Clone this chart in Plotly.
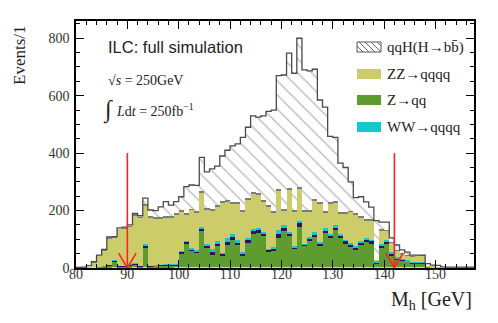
import numpy as np
import plotly.graph_objects as go

# bins of 1 GeV, lower edges 80 .. 157
bin_lo = np.arange(80, 158)

# stacked components (events per bin)
bkg_other = [2, 2] + [3] * 76
zqq = [0, 0, 0, 0, 2, 4, 6, 20, 3, 3,
       6, 8, 3, 70, 2, 4, 5, 5, 6, 7,
       46, 80, 56, 50, 126, 68, 45, 72, 40, 78,
       95, 78, 38, 84, 116, 120, 108, 52, 55, 103,
       125, 108, 62, 140, 72, 92, 106, 72, 118, 100,
       128, 100, 82, 70, 58, 76, 86, 82, 12, 68,
       80, 40, 26, 22, 18, 12, 14, 12, 2, 0,
       0, 0, 0, 0, 0, 0, 0, 0]
zz_other = [0, 0, 0, 0, 0, 0, 1, 3, 1, 1,
            3, 4, 1, 4, 1, 3, 3, 3, 3, 3,
            8, 8, 7, 6, 10, 7, 6, 10, 6, 10,
            10, 9, 9, 11, 10, 10, 10, 8, 9, 14,
            12, 9, 7, 12, 7, 6, 7, 12, 8, 10,
            10, 10, 9, 9, 9, 9, 9, 9, 3, 9,
            9, 7, 5, 4, 3, 3, 3, 3, 1, 0,
            0, 0, 0, 0, 0, 0, 0, 0]
ww = [0, 0, 0, 0, 0, 0, 0, 2, 0, 0,
      2, 3, 0, 5, 0, 1, 1, 2, 2, 2,
      3, 4, 5, 3, 4, 5, 12, 8, 4, 12,
      10, 6, 4, 5, 6, 8, 6, 3, 5, 11,
      10, 5, 3, 8, 3, 8, 8, 5, 12, 5,
      10, 5, 5, 5, 5, 6, 5, 5, 8, 5,
      5, 4, 6, 4, 3, 3, 2, 2, 0, 0,
      0, 0, 0, 0, 0, 0, 0, 0]
zz = [0, 1, 3, 17, 37, 55, 94, 77, 129, 131,
      131, 165, 169, 137, 170, 161, 160, 162, 161, 170,
      136, 91, 131, 130, 119, 122, 134, 122, 175, 129,
      107, 129, 144, 137, 125, 114, 105, 147, 120, 140,
      50, 150, 121, 114, 111, 87, 112, 133, 52, 107,
      77, 72, 91, 108, 110, 81, 62, 68, 2, 47,
      33, 36, 20, 17, 18, 19, 23, 24, 4, 4,
      3, 0, 0, 0, 0, 0, 0, 0]
cap = [0, 0, 0, 1, 1, 2, 3, 3, 3, 3,
       4, 5, 5, 5, 5, 5, 5, 5, 5, 5,
       5, 5, 5, 5, 5, 5, 5, 5, 5, 5,
       5, 5, 5, 5, 5, 5, 5, 5, 5, 5,
       5, 5, 5, 5, 5, 5, 5, 5, 5, 5,
       5, 5, 5, 5, 5, 5, 5, 5, 1, 4,
       4, 2, 2, 2, 2, 2, 0, 1, 0, 0,
       0, 0, 0, 0, 0, 0, 0, 0]
qqh = [0, 0, 2, 1, 2, 1, 1, 1, 1, 1,
       1, 2, 1, 19, 21, 23, 36, 51, 39, 41,
       47, 92, 82, 91, 118, 125, 140, 135, 157, 173,
       195, 202, 252, 245, 265, 265, 293, 327, 353, 394,
       467, 468, 477, 518, 489, 485, 451, 355, 362, 228,
       222, 170, 155, 100, 55, 68, 60, 40, 136, 24,
       26, 13, 18, 11, 8, 3, 0, 0, 5, 3,
       3, 1, 0, 0, 0, 0, 0, 0]

cuts = [90, 142]
cut_arrow_top = 400

# page body has an 8px margin, so the figure starts at (8, 8) on screen
OFF = 8
W, H = 498 - OFF, 323 - OFF
L, R, T, B = 76 - OFF, 24, 21 - OFF, 55
pw, ph = W - L - R, H - T - B


def px(x, y):
    # screen pixel -> paper coordinates
    x, y = x - OFF, y - OFF
    return (x - L) / pw, (H - B - y) / ph


serif = "Liberation Serif"
centers = bin_lo + 0.5

fig = go.Figure()
layers = [
    (bkg_other, "#e8cfb0", "other"),
    (zqq, "#5f9c2f", "Z→qq"),
    (zz_other, "#2b1066", "ZZ other"),
    (ww, "#14c8cf", "WW→qqqq"),
    (zz, "#cccc6b", "ZZ→qqqq"),
    (cap, "#7c7c7c", "misc"),
]
for vals, col, name in layers:
    fig.add_trace(go.Bar(x=centers, y=vals, width=1, marker=dict(color=col, line=dict(width=0)),
                         name=name, showlegend=False))

fig.add_trace(go.Bar(x=centers, y=qqh, width=1, name="qqH",
                     marker=dict(color="white", line=dict(width=0),
                                 pattern=dict(shape="\\", fgcolor="#707070", bgcolor="white",
                                              size=10, solidity=0.13)),
                     showlegend=False))

total = np.sum([bkg_other, zqq, zz_other, ww, zz, cap, qqh], axis=0)
edges = np.append(bin_lo, bin_lo[-1] + 1)
fig.add_trace(go.Scatter(x=edges, y=np.append(total, total[-1]), mode="lines",
                         line=dict(shape="hv", color="#4a4a4a", width=1.3),
                         showlegend=False, hoverinfo="skip"))

shapes = []
for c in cuts:
    for x0, y0 in [(c, cut_arrow_top), (c - 1.7, 52), (c + 1.7, 52)]:
        shapes.append(dict(type="line", xref="x", yref="y", x0=x0, y0=y0, x1=c, y1=0,
                           line=dict(color="#ff2222", width=1.6)))

# legend, drawn by hand
leg_rows = [("qqH(H→bb\u0304)", None), ("ZZ→qqqq", "#cccc6b"),
            ("Z→qq", "#5f9c2f"), ("WW→qqqq", "#14c8cf")]
leg_y = [47, 74, 100, 127]
bx0, bx1 = 357, 381
annotations = []
for (label, col), yc in zip(leg_rows, leg_y):
    x0, y0 = px(bx0, yc + 5)
    x1, y1 = px(bx1, yc - 5)
    if col is None:
        shapes.append(dict(type="rect", xref="paper", yref="paper", x0=x0, y0=y0, x1=x1, y1=y1,
                           fillcolor="white", line=dict(color="#555", width=1)))
        for s in range(bx0 - 10, bx1, 6):
            ax, ay, bxx, byy = s, yc - 5, s + 10, yc + 5
            if ax < bx0:
                ay += bx0 - ax
                ax = bx0
            if bxx > bx1:
                byy -= bxx - bx1
                bxx = bx1
            if bxx - ax < 1:
                continue
            p0 = px(ax, ay)
            p1 = px(bxx, byy)
            shapes.append(dict(type="line", xref="paper", yref="paper", x0=p0[0], y0=p0[1],
                               x1=p1[0], y1=p1[1], line=dict(color="#666", width=1)))
    else:
        shapes.append(dict(type="rect", xref="paper", yref="paper", x0=x0, y0=y0, x1=x1, y1=y1,
                           fillcolor=col, line=dict(width=0)))
    tx, ty = px(385, yc)
    annotations.append(dict(text=label, x=tx, y=ty, xref="paper", yref="paper", xanchor="left",
                            yanchor="middle", showarrow=False, font=dict(family=serif, size=15, color="#222")))


def note(text, x, y, size, family=serif, **kw):
    ax, ay = px(x, y)
    d = dict(text=text, x=ax, y=ay, xref="paper", yref="paper", xanchor="left", yanchor="middle",
             showarrow=False, font=dict(family=family, size=size, color="#222"))
    d.update(kw)
    annotations.append(d)


note("ILC: full simulation", 106, 47, 16.5, family="Liberation Sans")
note("√<i>s</i> = 250GeV", 106, 80, 14)
note("∫", 101, 110, 24)
note("<i>L</i>d<i>t</i> = 250fb<sup>−1</sup>", 114, 110, 14)
note("Events/1", 20, 55, 17, textangle=-90, xanchor="center")
note("M<sub>h</sub> [GeV]", 474, 300, 20, xanchor="right")

axis_common = dict(ticks="inside", tickcolor="black", tickwidth=1.2, showline=True,
                   linecolor="black", linewidth=1.5, mirror="ticks", showgrid=False,
                   zeroline=False, automargin=False,
                   tickfont=dict(family=serif, size=14, color="#333"))
fig.update_xaxes(range=[80, 157.5], tick0=80, dtick=10, ticklen=8, ticklabelstandoff=-8,
                 minor=dict(dtick=2, ticks="inside", ticklen=4, tickcolor="black", showgrid=False),
                 **axis_common)
fig.update_yaxes(range=[0, 860], tick0=0, dtick=200, ticklen=8, ticklabelstandoff=2,
                 minor=dict(dtick=50, ticks="inside", ticklen=4, tickcolor="black", showgrid=False),
                 **axis_common)

fig.update_layout(width=W, height=H, margin=dict(l=L, r=R, t=T, b=B),
                  plot_bgcolor="white", paper_bgcolor="white", barmode="stack", bargap=0,
                  showlegend=False, shapes=shapes, annotations=annotations)

fig.write_html("out.html")
